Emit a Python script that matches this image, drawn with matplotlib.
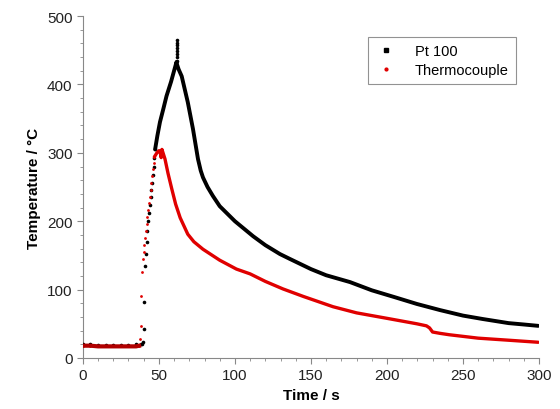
import matplotlib.pyplot as plt
from matplotlib.ticker import MultipleLocator

plt.rcParams['font.family'] = ['Liberation Sans', 'DejaVu Sans']

# Pt 100 - baseline and sparse rising points
pt_rise_t = [0, 5, 10, 15, 20, 25, 30, 35, 38, 39, 39.5, 40, 40.5, 41, 41.5, 42, 42.5, 43, 43.5, 44, 44.5, 45, 45.5, 46, 46.5, 47, 47.5]
pt_rise_T = [20, 20, 19, 19, 19, 19, 19, 20, 20, 21, 23, 42, 82, 134, 152, 170, 186, 200, 212, 224, 236, 246, 256, 268, 280, 292, 305]
# Pt 100 - dense part
pt_t = [47.5, 49, 50.7, 53, 55, 58, 61.6, 61.8, 63, 65, 67, 69, 72.4, 75.7, 77.5, 79, 82, 85.5, 90, 100, 112, 120, 129.6, 136, 150, 160, 175.7, 190, 205, 219.7, 235, 250, 263, 280, 290, 299.5]
pt_T = [305, 325, 345, 365, 383, 404, 433, 430, 422, 412, 393, 374, 335, 291, 274, 264, 250, 237, 222, 200, 178, 165, 152, 145, 130, 121, 111, 99, 89, 79, 70, 62, 57, 51, 49, 47]
# Pt 100 - dotted spike at the peak
pt_spike_t = [61.6, 61.6, 61.6, 61.6, 61.6, 61.6, 61.6, 61.6]
pt_spike_T = [435, 440, 445, 449, 453, 457, 461, 465]

# Thermocouple - baseline and sparse rising points
tc_rise_t = [0, 5, 10, 15, 20, 25, 30, 35, 37, 37.5, 38, 38.4, 38.8, 39.5, 40, 40.5, 41, 41.5, 42, 42.5, 43, 43.5, 44, 44.5, 45, 45.5, 46, 46.5, 47]
tc_rise_T = [18, 18, 17, 17, 17, 17, 17, 17, 18, 28, 47, 91, 126, 145, 155, 165, 175, 186, 196, 206, 216, 226, 236, 246, 256, 266, 276, 285, 294]
# Thermocouple - dense part
tc_t = [47, 48.7, 50, 50.7, 51.5, 52, 53, 54, 56, 58.5, 61, 64, 69, 73, 79, 90, 101, 110, 120, 131.6, 145, 164.5, 180, 200, 219.7, 226, 228, 230, 235, 241, 260, 280, 299.5]
tc_T = [294, 300, 303, 303, 293, 305, 298, 291, 270, 247, 225, 205, 181, 170, 159, 143, 130, 123, 112, 101, 90, 75, 66, 58, 50, 47, 44, 38, 36, 34, 29, 26, 23]

fig = plt.figure(figsize=(5.6, 4.1), dpi=100)
ax = fig.add_axes([0.148, 0.1244, 0.8145, 0.834])

ax.plot(pt_rise_t, pt_rise_T, 'o', color='black', ms=2.6, mew=0, zorder=3)
ax.plot(pt_spike_t, pt_spike_T, 'o', color='black', ms=2.6, mew=0, zorder=3)
ax.plot(pt_t, pt_T, '-', color='black', lw=2.8, zorder=3, solid_capstyle='round', solid_joinstyle='round')
ax.plot(tc_rise_t, tc_rise_T, 'o', color='#e00000', ms=2.0, mew=0, zorder=4)
ax.plot(tc_t, tc_T, '-', color='#e00000', lw=2.4, zorder=4, solid_capstyle='round', solid_joinstyle='round')
ax.plot(tc_rise_t[:9], tc_rise_T[:9], '-', color='#b00000', lw=3, zorder=4)

# legend handles
ax.plot([], [], 's', color='black', ms=3, label='Pt 100')
ax.plot([], [], 'o', color='#e00000', ms=2, label='Thermocouple')
handles, labels = ax.get_legend_handles_labels()
leg = ax.legend(handles, labels, loc='upper right', bbox_to_anchor=(0.965, 0.96),
                fontsize=10.5, frameon=True, fancybox=False, edgecolor='#777777',
                handlelength=1.5, handletextpad=1.2, borderpad=0.5, labelspacing=0.3)
leg.get_frame().set_linewidth(0.8)

ax.set_xlim(0, 300)
ax.set_ylim(0, 500)
ax.xaxis.set_major_locator(MultipleLocator(50))
ax.xaxis.set_minor_locator(MultipleLocator(10))
ax.yaxis.set_major_locator(MultipleLocator(100))
ax.yaxis.set_minor_locator(MultipleLocator(20))

for s in ['top', 'right']:
    ax.spines[s].set_visible(False)
for s in ['left', 'bottom']:
    ax.spines[s].set_color('#888888')
    ax.spines[s].set_linewidth(0.8)
ax.tick_params(which='major', length=4, color='#888888', labelsize=11, labelcolor='#222222')
ax.tick_params(which='minor', length=2, color='#888888')

ax.set_xlabel('Time / s', fontsize=11, fontweight='bold')
ax.set_ylabel('Temperature / °C', fontsize=11, fontweight='bold')

fig.savefig('out.png', dpi=100)
